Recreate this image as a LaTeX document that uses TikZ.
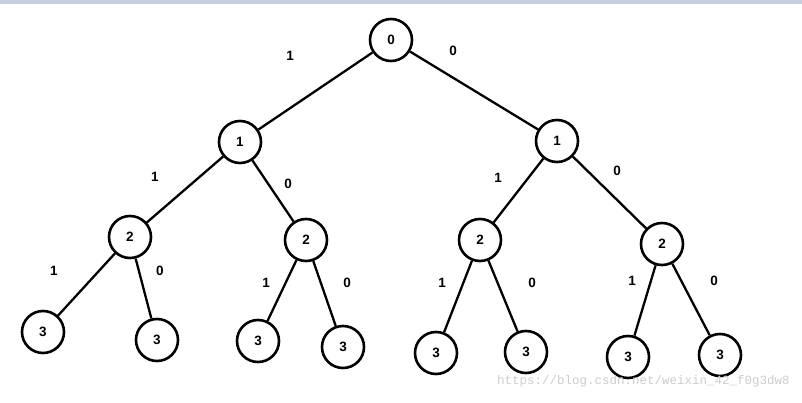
\documentclass[tikz,border=0pt]{standalone}
\usepackage{fontspec}
\setmainfont{Liberation Sans}
\newfontfamily\markfont{Liberation Mono}
\usetikzlibrary{positioning}
\definecolor{topbar}{RGB}{197,207,224}

\begin{document}
\begin{tikzpicture}[
    x=1pt, y=-1pt,
    vertex/.style={draw, circle, line width=2.6pt, minimum size=42pt, inner sep=0pt, font=\fontsize{13.5}{15}\selectfont\bfseries},
    edge/.style={line width=2.3pt},
    bit/.style={font=\fontsize{13.5}{15}\selectfont\bfseries}
]
\useasboundingbox (0,0) rectangle (802,403);
\fill[topbar] (0,0) rectangle (802,4);

% level 0 and 1
\node[vertex] (n0) at (391,40) {0};
\node[vertex] (a1) at (240,142) {1};
\node[vertex] (b1) at (557,141) {1};

% level 2
\node[vertex] (a2) at (130,237) {2};
\node[vertex] (b2) at (306,240) {2};
\node[vertex] (c2) at (480,240) {2};
\node[vertex] (d2) at (662,244) {2};

% leaves
\node[vertex] (a3) at (43,332) {3};
\node[vertex] (b3) at (157,340) {3};
\node[vertex] (c3) at (258,341) {3};
\node[vertex] (d3) at (343,347) {3};
\node[vertex] (e3) at (436,353) {3};
\node[vertex] (f3) at (526,352) {3};
\node[vertex] (g3) at (628,357) {3};
\node[vertex] (h3) at (720,355) {3};

\draw[edge] (n0) -- (a1);
\draw[edge] (n0) -- (b1);
\draw[edge] (a1) -- (a2);
\draw[edge] (a1) -- (b2);
\draw[edge] (b1) -- (c2);
\draw[edge] (b1) -- (d2);
\draw[edge] (a2) -- (a3);
\draw[edge] (a2) -- (b3);
\draw[edge] (b2) -- (c3);
\draw[edge] (b2) -- (d3);
\draw[edge] (c2) -- (e3);
\draw[edge] (c2) -- (f3);
\draw[edge] (d2) -- (g3);
\draw[edge] (d2) -- (h3);

% edge labels
\node[bit] (l0a) at (290,56) {1};
\node[bit] (l0b) at (453,51) {0};
\node[bit] (l1a) at (155,177) {1};
\node[bit] (l1b) at (288,184) {0};
\node[bit] (l1c) at (498,178) {1};
\node[bit] (l1d) at (617,171) {0};
\node[bit] (l2a) at (54,271) {1};
\node[bit] (l2b) at (160,271) {0};
\node[bit] (l2c) at (266,283) {1};
\node[bit] (l2d) at (347,283) {0};
\node[bit] (l2e) at (442,283) {1};
\node[bit] (l2f) at (532,283) {0};
\node[bit] (l2g) at (632,281) {1};
\node[bit] (l2h) at (714,281) {0};

\node[anchor=west, inner sep=0pt, text=black!20, font=\markfont\fontsize{12.5}{14}\selectfont] (mark) at (497,381) {https://blog.csdn.net/weixin\_42\_f0g3dw8};
\end{tikzpicture}
\end{document}
